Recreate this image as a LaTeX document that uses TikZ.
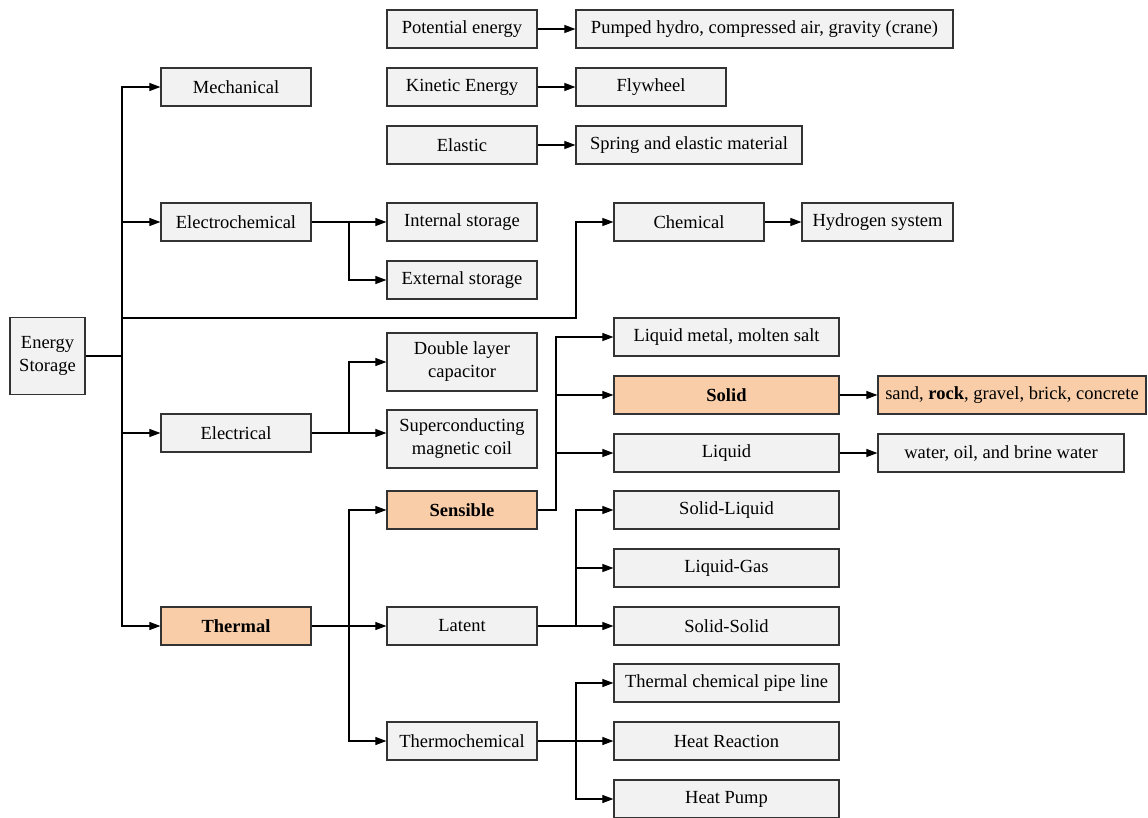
\documentclass[tikz,border=0pt]{standalone}
\usepackage{fontspec}
\setmainfont{Liberation Serif}
\usetikzlibrary{arrows.meta}
\definecolor{boxfill}{HTML}{F2F2F2}
\definecolor{orangefill}{HTML}{F8CDA8}
\definecolor{linec}{HTML}{333333}
\tikzset{
  box/.style={draw=linec, fill=boxfill, line width=1.2pt, inner sep=0pt,
    minimum width=150pt, minimum height=38pt, align=center,
    font=\fontsize{18.5}{23}\selectfont},
  hot/.style={box, fill=orangefill},
  conn/.style={draw=black, line width=1.1pt},
  arr/.style={conn, -{Triangle[length=11pt,width=8pt]}}
}
\begin{document}
\begin{tikzpicture}[x=1pt,y=-1pt]
\useasboundingbox (0,0) rectangle (1148,817);
% level 0/1
\node[box, minimum width=75pt, minimum height=77pt] (es) at (47.5,356) {Energy\\Storage};
\node[box] (mech) at (236,87) {Mechanical};
\node[box] (echem) at (236,222) {Electrochemical};
\node[box] (elec) at (236,433) {Electrical};
\node[hot] (therm) at (236,626) {\bfseries Thermal};
% mechanical group
\node[box] (pot) at (462,29) {Potential energy};
\node[box, minimum width=377pt] (pump) at (764.5,29) {Pumped hydro, compressed air, gravity (crane)};
\node[box] (kin) at (462,87) {Kinetic Energy};
\node[box] (fly) at (651,87) {Flywheel};
\node[box] (elas) at (462,145) {Elastic};
\node[box, minimum width=226pt] (spring) at (689,145) {Spring and elastic material};
% electrochemical
\node[box] (int) at (462,222) {Internal storage};
\node[box] (ext) at (462,280) {External storage};
\node[box] (chem) at (689,222) {Chemical};
\node[box, minimum width=151pt] (hyd) at (877.5,222) {Hydrogen system};
% electrical
\node[box, minimum height=58pt] (dlc) at (462,362) {Double layer\\capacitor};
\node[box, minimum height=58pt] (smc) at (462,439) {Superconducting\\magnetic coil};
% thermal
\node[hot] (sens) at (462,510) {\bfseries Sensible};
\node[box] (lat) at (462,626) {Latent};
\node[box] (thch) at (462,741) {Thermochemical};
\node[box, minimum width=225pt] (lms) at (726.5,337) {Liquid metal, molten salt};
\node[hot, minimum width=225pt] (solid) at (726.5,395) {\bfseries Solid};
\node[box, minimum width=225pt] (liquid) at (726.5,453) {Liquid};
\node[hot, minimum width=268pt] (sand) at (1012,395) {sand, \textbf{rock}, gravel, brick, concrete};
\node[box, minimum width=246pt] (water) at (1001,453) {water, oil, and brine water};
\node[box, minimum width=225pt] (sl) at (726.5,510) {Solid-Liquid};
\node[box, minimum width=225pt] (lg) at (726.5,568) {Liquid-Gas};
\node[box, minimum width=225pt] (ss) at (726.5,626) {Solid-Solid};
\node[box, minimum width=225pt] (tcp) at (726.5,683) {Thermal chemical pipe line};
\node[box, minimum width=225pt] (hr) at (726.5,741) {Heat Reaction};
\node[box, minimum width=225pt] (hp) at (726.5,799) {Heat Pump};
% helper coordinates
\coordinate (tx) at (122,0);
\coordinate (ex) at (349,0);
\coordinate (sx) at (556,0);
\coordinate (lx) at (576,0);
\coordinate (cj) at (122,318);
\coordinate (cb) at (576,318);
% trunk
\draw[conn] (es.east) -- (es.east -| tx);
\draw[arr] (es.east -| tx) |- (mech.west);
\draw[arr] (es.east -| tx) |- (therm.west);
\draw[arr] (tx |- echem.west) -- (echem.west);
\draw[arr] (tx |- elec.west) -- (elec.west);
\draw[arr] (cj) -- (cb) |- (chem.west);
% simple arrows
\draw[arr] (pot) -- (pump);
\draw[arr] (kin) -- (fly);
\draw[arr] (elas) -- (spring);
\draw[arr] (chem) -- (hyd);
\draw[arr] (solid) -- (sand);
\draw[arr] (liquid.east) -- (water.west |- liquid.east);
% electrochemical
\draw[arr] (echem.east) -- (int.west);
\draw[arr] (echem.east -| ex) |- (ext.west);
% electrical
\draw[arr] (elec.east) -- (smc.west |- elec.east);
\draw[arr] (elec.east -| ex) |- (dlc.west);
% thermal
\draw[arr] (therm.east) -- (lat.west);
\draw[arr] (therm.east -| ex) |- (sens.west);
\draw[arr] (therm.east -| ex) |- (thch.west);
% sensible
\draw[arr] (sens.east) -- (sens.east -| sx) |- (lms.west);
\draw[arr] (sx |- solid.west) -- (solid.west);
\draw[arr] (sx |- liquid.west) -- (liquid.west);
% latent
\draw[arr] (lat.east) -- (ss.west);
\draw[arr] (lat.east -| lx) |- (sl.west);
\draw[arr] (lx |- lg.west) -- (lg.west);
% thermochemical
\draw[arr] (thch.east) -- (hr.west);
\draw[arr] (thch.east -| lx) |- (tcp.west);
\draw[arr] (thch.east -| lx) |- (hp.west);
\end{tikzpicture}
\end{document}
